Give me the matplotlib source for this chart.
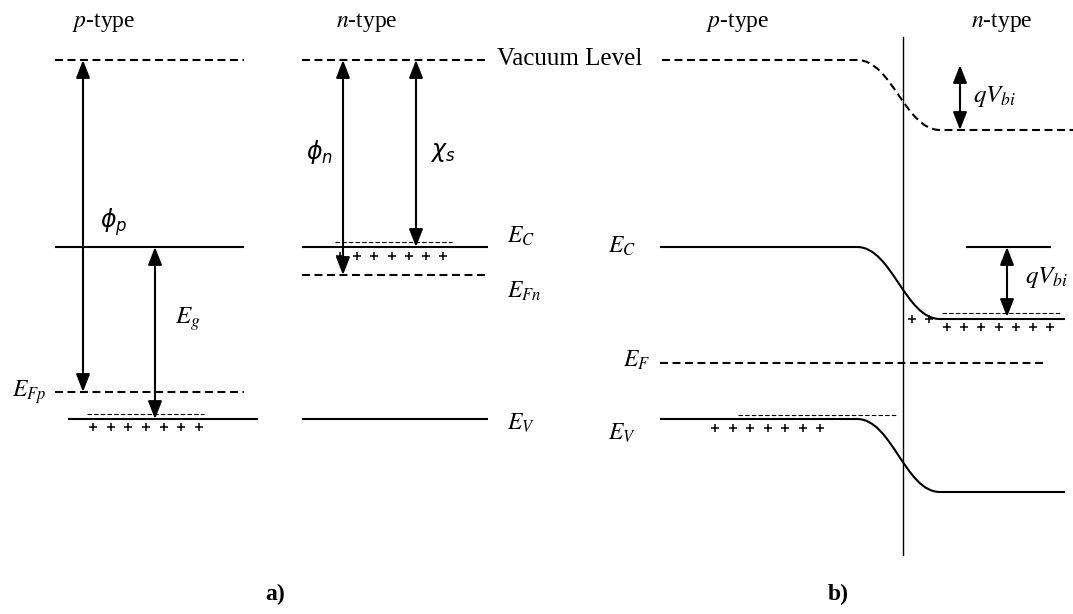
import matplotlib.pyplot as plt
import numpy as np
from matplotlib.path import Path
from matplotlib.patches import PathPatch

# Energy levels in diagram units (y grows downward): vacuum, E_C, E_F, E_V
p_isolated = [60, 247, 392, 419]
n_isolated = [60, 247, 275, 419]
p_junction = [60, 247, 363, 419]
n_junction = [130, 319, 363, 492]

# number of "+" signs drawn under each band edge
holes_a_p = 7
holes_a_n = 7
holes_b_p = 7
holes_b_n_bend = 2
holes_b_n = 7

plt.rcParams["font.family"] = ["Liberation Serif", "DejaVu Serif"]
plt.rcParams["mathtext.fontset"] = "stix"

W, H = 1073, 614
fig = plt.figure(figsize=(W / 100, H / 100), dpi=100)
ax = fig.add_axes([0, 0, 1, 1])
ax.set_xlim(0, W)
ax.set_ylim(H, 0)
ax.axis("off")

LW = 1.5
DASH = (0, (3.8, 2.2))
SMALL_DASH = (0, (4, 2))
FS = 17


def level(x0, x1, y, dashed=False):
    ax.plot([x0, x1], [y, y], color="k", lw=LW,
            linestyle=DASH if dashed else "-", solid_capstyle="butt")


def thin_dash(x0, x1, y):
    ax.plot([x0, x1], [y, y], color="k", lw=0.8, linestyle=SMALL_DASH)


def holes(x0, x1, y, n):
    ax.plot(np.linspace(x0, x1, n), [y] * n, "+", color="k", ms=6, mew=1.1)


def arrow(x, y0, y1):
    ax.annotate("", xy=(x, y1), xytext=(x, y0),
                arrowprops=dict(arrowstyle="<|-|>,head_length=0.9,head_width=0.35",
                                mutation_scale=12, lw=LW, color="k",
                                shrinkA=0, shrinkB=0))


def bent(x0, xa, xb, x1, y_left, y_right, dashed=False):
    # flat - smooth S bend across the junction - flat
    d = xb - xa
    verts = [(x0, y_left), (xa, y_left), (xa + 0.42 * d, y_left),
             (xb - 0.42 * d, y_right), (xb, y_right), (x1, y_right)]
    codes = [Path.MOVETO, Path.LINETO, Path.CURVE4, Path.CURVE4,
             Path.CURVE4, Path.LINETO]
    ax.add_patch(PathPatch(Path(verts, codes), fill=False, color="k", lw=LW,
                           linestyle=DASH if dashed else "-", capstyle="butt"))


# ---------------- a) isolated p and n semiconductors ----------------
pv, pc, pf, pe = p_isolated
level(55, 244, pv, dashed=True)
level(55, 244, pc)
level(55, 244, pf, dashed=True)
level(68, 258, pe)
thin_dash(87, 204, pe - 5)
holes(93, 199, pe + 8, holes_a_p)
arrow(83, pf, pv)
arrow(155, pe, pc)

nv, nc, nf, ne = n_isolated
level(302, 488, nv, dashed=True)
level(302, 488, nc)
level(302, 488, nf, dashed=True)
level(302, 488, ne)
thin_dash(335, 452, nc - 5)
holes(340, 443, nc + 9, holes_a_n)
arrow(343, nf, nv)
arrow(416, nc, nv)

ax.text(104, 27, r"$p$-type", fontsize=FS, ha="center", va="baseline")
ax.text(367, 27, r"$n$-type", fontsize=FS, ha="center", va="baseline")
ax.text(114, 222, r"$\phi_p$", fontsize=FS, ha="center", va="center",
        math_fontfamily="dejavusans")
ax.text(319, 152, r"$\phi_n$", fontsize=FS, ha="center", va="center",
        math_fontfamily="dejavusans")
ax.text(443, 152, r"$\chi_s$", fontsize=FS, ha="center", va="center",
        math_fontfamily="dejavusans")
ax.text(175, 324, r"$E_g$", fontsize=FS + 1, ha="left", va="baseline")
ax.text(12, 397, r"$E_{Fp}$", fontsize=FS, ha="left", va="baseline")
ax.text(507, 243, r"$E_C$", fontsize=FS, ha="left", va="baseline")
ax.text(507, 298, r"$E_{Fn}$", fontsize=FS, ha="left", va="baseline")
ax.text(507, 430, r"$E_V$", fontsize=FS, ha="left", va="baseline")
ax.text(497, 65, "Vacuum Level", fontsize=FS + 1, ha="left", va="baseline")

# ---------------- b) p-n junction in equilibrium ----------------
jv_p, jc_p, jf, je_p = p_junction
jv_n, jc_n, _, je_n = n_junction
ax.plot([903, 903], [37, 555], color="k", lw=1.0)
bent(662, 857, 940, 1073, jv_p, jv_n, dashed=True)
bent(660, 857, 940, 1065, jc_p, jc_n)
bent(660, 857, 940, 1065, je_p, je_n)
level(660, 1045, jf, dashed=True)
level(966, 1051, jc_p)
thin_dash(942, 1060, jc_n - 6)
thin_dash(738, 897, je_p - 4)
holes(912, 929, jc_n, holes_b_n_bend)
holes(947, 1050, jc_n + 8, holes_b_n)
holes(715, 820, je_p + 9, holes_b_p)
arrow(960, jv_n, jv_p + 5)
arrow(1007, jc_n - 2, jc_p)

ax.text(738, 27, r"$p$-type", fontsize=FS, ha="center", va="baseline")
ax.text(1002, 27, r"$n$-type", fontsize=FS, ha="center", va="baseline")
ax.text(608, 253, r"$E_C$", fontsize=FS, ha="left", va="baseline")
ax.text(623, 367, r"$E_F$", fontsize=FS, ha="left", va="baseline")
ax.text(608, 440, r"$E_V$", fontsize=FS, ha="left", va="baseline")
ax.text(973, 102, r"$qV_{bi}$", fontsize=FS + 1, ha="left", va="baseline")
ax.text(1025, 283, r"$qV_{bi}$", fontsize=FS + 1, ha="left", va="baseline")

ax.text(275, 594, "a)", fontsize=17, fontweight="bold", ha="center", va="center")
ax.text(838, 594, "b)", fontsize=17, fontweight="bold", ha="center", va="center")

fig.savefig("out.png", dpi=100)
